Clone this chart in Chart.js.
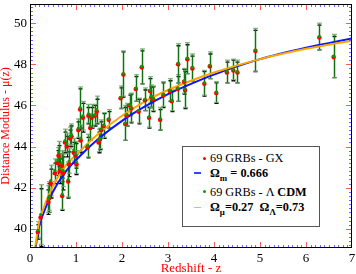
<!DOCTYPE html>
<html><head><meta charset="utf-8">
<script src="https://cdn.jsdelivr.net/npm/chart.js@4.4.1/dist/chart.umd.min.js"></script>
<style>
html,body{margin:0;padding:0;background:#fff;}
#wrap{position:relative;width:356px;height:274px;background:#fff;}
canvas{display:block;}
#legend{position:absolute;left:182px;top:146px;width:136px;height:79px;border:1px solid #555;background:#fff;font-family:"Liberation Serif","Times New Roman",serif;font-size:12.3px;color:#000;}
.row{position:absolute;left:0;width:136px;height:14px;white-space:nowrap;line-height:14px;}
.txt{position:absolute;left:27px;top:0;}
.dot{position:absolute;left:19.5px;top:5.5px;width:3px;height:3px;border-radius:50%;}
.ln{position:absolute;left:11px;top:6.5px;width:7px;height:1.5px;}
sub{font-size:0.72em;vertical-align:-0.4em;line-height:0;}
b{font-weight:bold;}
</style></head>
<body>
<div id="wrap">
<canvas id="c" width="356" height="274"></canvas>
<div id="legend">
  <div class="row" style="top:4.3px"><span class="dot" style="background:#ff0000"></span><span class="txt">69 GRBs - GX</span></div>
  <div class="row" style="top:18.7px"><span class="ln" style="background:#3344ff"></span><span class="txt"><b>Ω<sub>m</sub> = 0.666</b></span></div>
  <div class="row" style="top:37.7px"><span class="dot" style="background:#00a000"></span><span class="txt">69 GRBs - Λ <b>CDM</b></span></div>
  <div class="row" style="top:53.3px"><span class="ln" style="background:#ffb733"></span><span class="txt"><b>Ω<sub>μ</sub>=0.27&nbsp;&nbsp;Ω<sub>Λ</sub>=0.73</b></span></div>
</div>
</div>
<script>
// ---- data ----
const redshift = [0.17,0.23,0.40,0.42,0.45, 0.54,0.60,0.62,0.65,0.69, 0.70,0.72,0.76,0.80,0.83,
  0.85,0.87,0.90,0.95,0.99, 1.01,1.05,1.09,1.10,1.15, 1.25,1.27,1.31,1.34,1.41,
  1.45,1.49,1.52,1.55,1.60, 1.71,1.97,2.03,2.07,2.10, 2.17,2.20,2.30,2.36,2.43,
  2.50,2.59,2.61,2.64,2.68, 2.83,2.90,3.04,3.08,3.21, 3.22,3.35,3.37,3.42,3.53,
  3.79,3.91,4.05,4.28,4.42, 4.51,4.90,6.29,6.60];
const muGX = [39.85,40.55,41.3,41.5,42.2, 42.7,43.2,43.55,42.8,43.06, 41.6,42.7,44.2,44.0,42.3,
  43.14,44.4,44.5,43.7,43.55, 43.14,44.8,45.8,44.3,45.4, 43.95,45.5,44.9,45.4,45.5,
  45.7,44.2,44.35,44.8,45.0, 45.3,46.35,47.5,45.1,45.5, 46.0,45.85,46.8,45.7,47.85,
  46.25,45.4,46.7,46.4,46.3, 45.3,46.5,46.7,46.2,46.8, 48.0,47.15,46.75,48.25,47.8,
  47.05,47.9,46.6,47.6,47.7, 47.6,48.65,49.3,48.35];
const errGX = [0.35,1.4,0.6,0.7,0.7, 0.5,0.6,0.5,0.6,0.6, 0.7,0.8,0.5,0.5,0.8,
  0.6,0.4,0.5,0.5,0.6, 0.5,0.4,1.0,0.6,0.7, 0.5,0.4,0.6,0.5,0.5,
  0.6,0.5,0.5,0.4,0.6, 0.4,0.5,1.1,0.8,0.5, 0.5,0.7,0.6,0.6,0.8,
  0.5,0.5,0.6,0.5,0.6, 0.5,0.6,0.5,0.5,0.6, 0.9,0.6,0.9,0.7,0.6,
  0.6,0.6,0.5,0.5,0.5, 0.5,1.0,0.6,1.0];
const muLCDM = [39.95,40.7,41.45,41.6,42.35, 42.85,43.35,43.7,42.95,43.2, 41.7,42.85,44.3,44.15,42.4,
  43.3,44.5,44.6,43.85,43.65, 43.25,44.9,45.9,44.4,45.5, 44.05,45.6,45.0,45.5,45.55,
  45.8,44.3,44.4,44.85,45.05, 45.35,46.4,47.55,45.15,45.55, 46.05,45.9,46.85,45.75,47.9,
  46.3,45.45,46.75,46.45,46.35, 45.35,46.55,46.75,46.25,46.85, 48.05,47.2,46.8,48.3,47.85,
  47.1,47.95,46.65,47.65,47.75, 47.65,48.7,49.35,48.4];
const errLCDM = [0.4,1.45,0.65,0.7,0.75, 0.55,0.6,0.55,0.65,0.6, 0.75,0.8,0.55,0.5,0.85,
  0.6,0.45,0.5,0.55,0.6, 0.55,0.45,1.0,0.65,0.7, 0.55,0.45,0.6,0.55,0.5,
  0.65,0.55,0.5,0.45,0.6, 0.45,0.55,1.1,0.85,0.55, 0.5,0.7,0.65,0.6,0.85,
  0.55,0.5,0.65,0.55,0.6, 0.55,0.6,0.55,0.5,0.65, 0.95,0.6,0.9,0.75,0.65,
  0.6,0.65,0.5,0.55,0.5, 0.55,1.05,0.65,1.05];
// model curves
const curveZ    = [0.1,0.2,0.3,0.4,0.6,0.8,1.0,1.5,2.0,2.5,3.0,3.5,4.0,5.0,6.0,7.0];
const curveGX   = [38.75,40.15,40.8,41.35,42.2,42.85,43.35,44.4,45.25,45.95,46.55,47.05,47.5,48.25,48.8,49.25];
const curveLCDM = [38.9,40.35,41.05,41.6,42.5,43.15,43.6,44.65,45.5,46.2,46.75,47.2,47.6,48.25,48.75,49.15];
// axis ticks
const xTicks = [0,1,2,3,4,5,6,7];
const yTicks = [40,42,44,46,48,50];

const pts = (xs, ys) => xs.map((v,i)=>({x:v, y:ys[i]}));

const errorBars = {
  id:'errorBars',
  beforeDatasetsDraw(chart){
    const {ctx, chartArea:a, scales:{x,y}} = chart;
    ctx.save();
    ctx.beginPath(); ctx.rect(a.left,a.top,a.right-a.left,a.bottom-a.top); ctx.clip();
    const draw = (mu, err, col, lw, capCol, capW) => {
      redshift.forEach((z,i)=>{
        const px = Math.round(x.getPixelForValue(z))+0.5;
        const y1 = y.getPixelForValue(mu[i]-err[i]);
        const y2 = y.getPixelForValue(mu[i]+err[i]);
        ctx.strokeStyle = col; ctx.lineWidth = lw;
        ctx.beginPath(); ctx.moveTo(px,y1); ctx.lineTo(px,y2); ctx.stroke();
        ctx.strokeStyle = capCol; ctx.lineWidth = 1.3;
        ctx.beginPath();
        ctx.moveTo(px-capW/2,y1); ctx.lineTo(px+capW/2,y1);
        ctx.moveTo(px-capW/2,y2); ctx.lineTo(px+capW/2,y2);
        ctx.stroke();
      });
    };
    draw(muGX, errGX, '#000000', 1, '#000000', 4);
    draw(muLCDM, errLCDM, 'rgba(20,130,20,0.85)', 1.6, 'rgba(110,170,110,0.8)', 5);
    ctx.restore();
  }
};

const frameTicks = {
  id:'frameTicks',
  afterDatasetsDraw(chart){
    const {ctx, chartArea:a, scales:{x,y}} = chart;
    ctx.save();
    ctx.lineWidth = 1;
    // minor ticks
    ctx.strokeStyle = '#6b6bff';
    ctx.beginPath();
    for (let k=1;k<70;k++){ if(k%10===0) continue;
      const px = Math.round(x.getPixelForValue(k/10))+0.5;
      ctx.moveTo(px,a.bottom); ctx.lineTo(px,a.bottom-3);
      ctx.moveTo(px,a.top); ctx.lineTo(px,a.top+3);
    }
    for (let k=196;k<=254;k++){ if(k%10===0) continue;
      const v = k/5; if (v< y.min || v> y.max) continue;
      const py = Math.round(y.getPixelForValue(v))+0.5;
      ctx.moveTo(a.left,py); ctx.lineTo(a.left+3,py);
      ctx.moveTo(a.right,py); ctx.lineTo(a.right-3,py);
    }
    ctx.stroke();
    // major ticks
    ctx.strokeStyle = '#ff5a5a';
    ctx.beginPath();
    xTicks.forEach(v=>{ if(v<=0||v>=7) return;
      const px = Math.round(x.getPixelForValue(v))+0.5;
      ctx.moveTo(px,a.bottom); ctx.lineTo(px,a.bottom-6);
      ctx.moveTo(px,a.top); ctx.lineTo(px,a.top+6);
    });
    yTicks.forEach(v=>{
      const py = Math.round(y.getPixelForValue(v))+0.5;
      ctx.moveTo(a.left,py); ctx.lineTo(a.left+6,py);
      ctx.moveTo(a.right,py); ctx.lineTo(a.right-6,py);
    });
    ctx.stroke();
    // frame
    ctx.strokeStyle = '#000';
    ctx.strokeRect(a.left+0.5, a.top+0.5, a.right-a.left-1, a.bottom-a.top-1);
    ctx.restore();
  }
};

const serif = '"Liberation Serif","Times New Roman",serif';

new Chart(document.getElementById('c'), {
  type:'scatter',
  data:{ datasets:[
    {label:'69 GRBs - GX', data:pts(redshift,muGX), backgroundColor:'#ff0000', borderColor:'#ff0000', pointRadius:2.3, pointBorderWidth:0, order:2},
    {label:'69 GRBs - Λ CDM', data:pts(redshift,muLCDM), backgroundColor:'#00a000', borderColor:'#00a000', pointRadius:1.5, pointBorderWidth:0, order:1},
    {label:'Ωm = 0.666', data:pts(curveZ,curveGX), showLine:true, borderColor:'#0a14ff', borderWidth:2, pointRadius:0, tension:0.4, cubicInterpolationMode:'monotone', order:4},
    {label:'Ωμ=0.27 ΩΛ=0.73', data:pts(curveZ,curveLCDM), showLine:true, borderColor:'#ffa500', borderWidth:2, pointRadius:0, tension:0.4, cubicInterpolationMode:'monotone', order:3}
  ]},
  options:{
    responsive:false, animation:false, devicePixelRatio:1,
    layout:{padding:{top:2,right:4,left:0,bottom:0}},
    plugins:{legend:{display:false}, tooltip:{enabled:false}},
    scales:{
      x:{type:'linear', min:0, max:7,
        afterBuildTicks:s=>{s.ticks = xTicks.map(v=>({value:v}));},
        afterFit:s=>{s.height = 26; s.paddingLeft = 0; s.paddingRight = 0;},
        grid:{display:false, drawTicks:false}, border:{display:false},
        ticks:{color:'#000', padding:3, font:{family:serif,size:13}, maxRotation:0},
        title:{display:true, text:'Redshift - z', color:'#ff0000', font:{family:serif,size:13,lineHeight:1}, padding:{top:0,bottom:-1}}
      },
      y:{type:'linear', min:39.07, max:50.93,
        afterBuildTicks:s=>{s.ticks = yTicks.map(v=>({value:v}));},
        afterFit:s=>{s.width = 30; s.paddingTop = 0; s.paddingBottom = 0;},
        grid:{display:false, drawTicks:false}, border:{display:false},
        ticks:{color:'#000', padding:3, font:{family:serif,size:13}},
        title:{display:true, text:'Distance Modulus - μ(z)', color:'#ff0000', font:{family:serif,size:12,lineHeight:1}, padding:{top:0,bottom:0}}
      }
    }
  },
  plugins:[errorBars, frameTicks]
});
</script>
</body></html>
